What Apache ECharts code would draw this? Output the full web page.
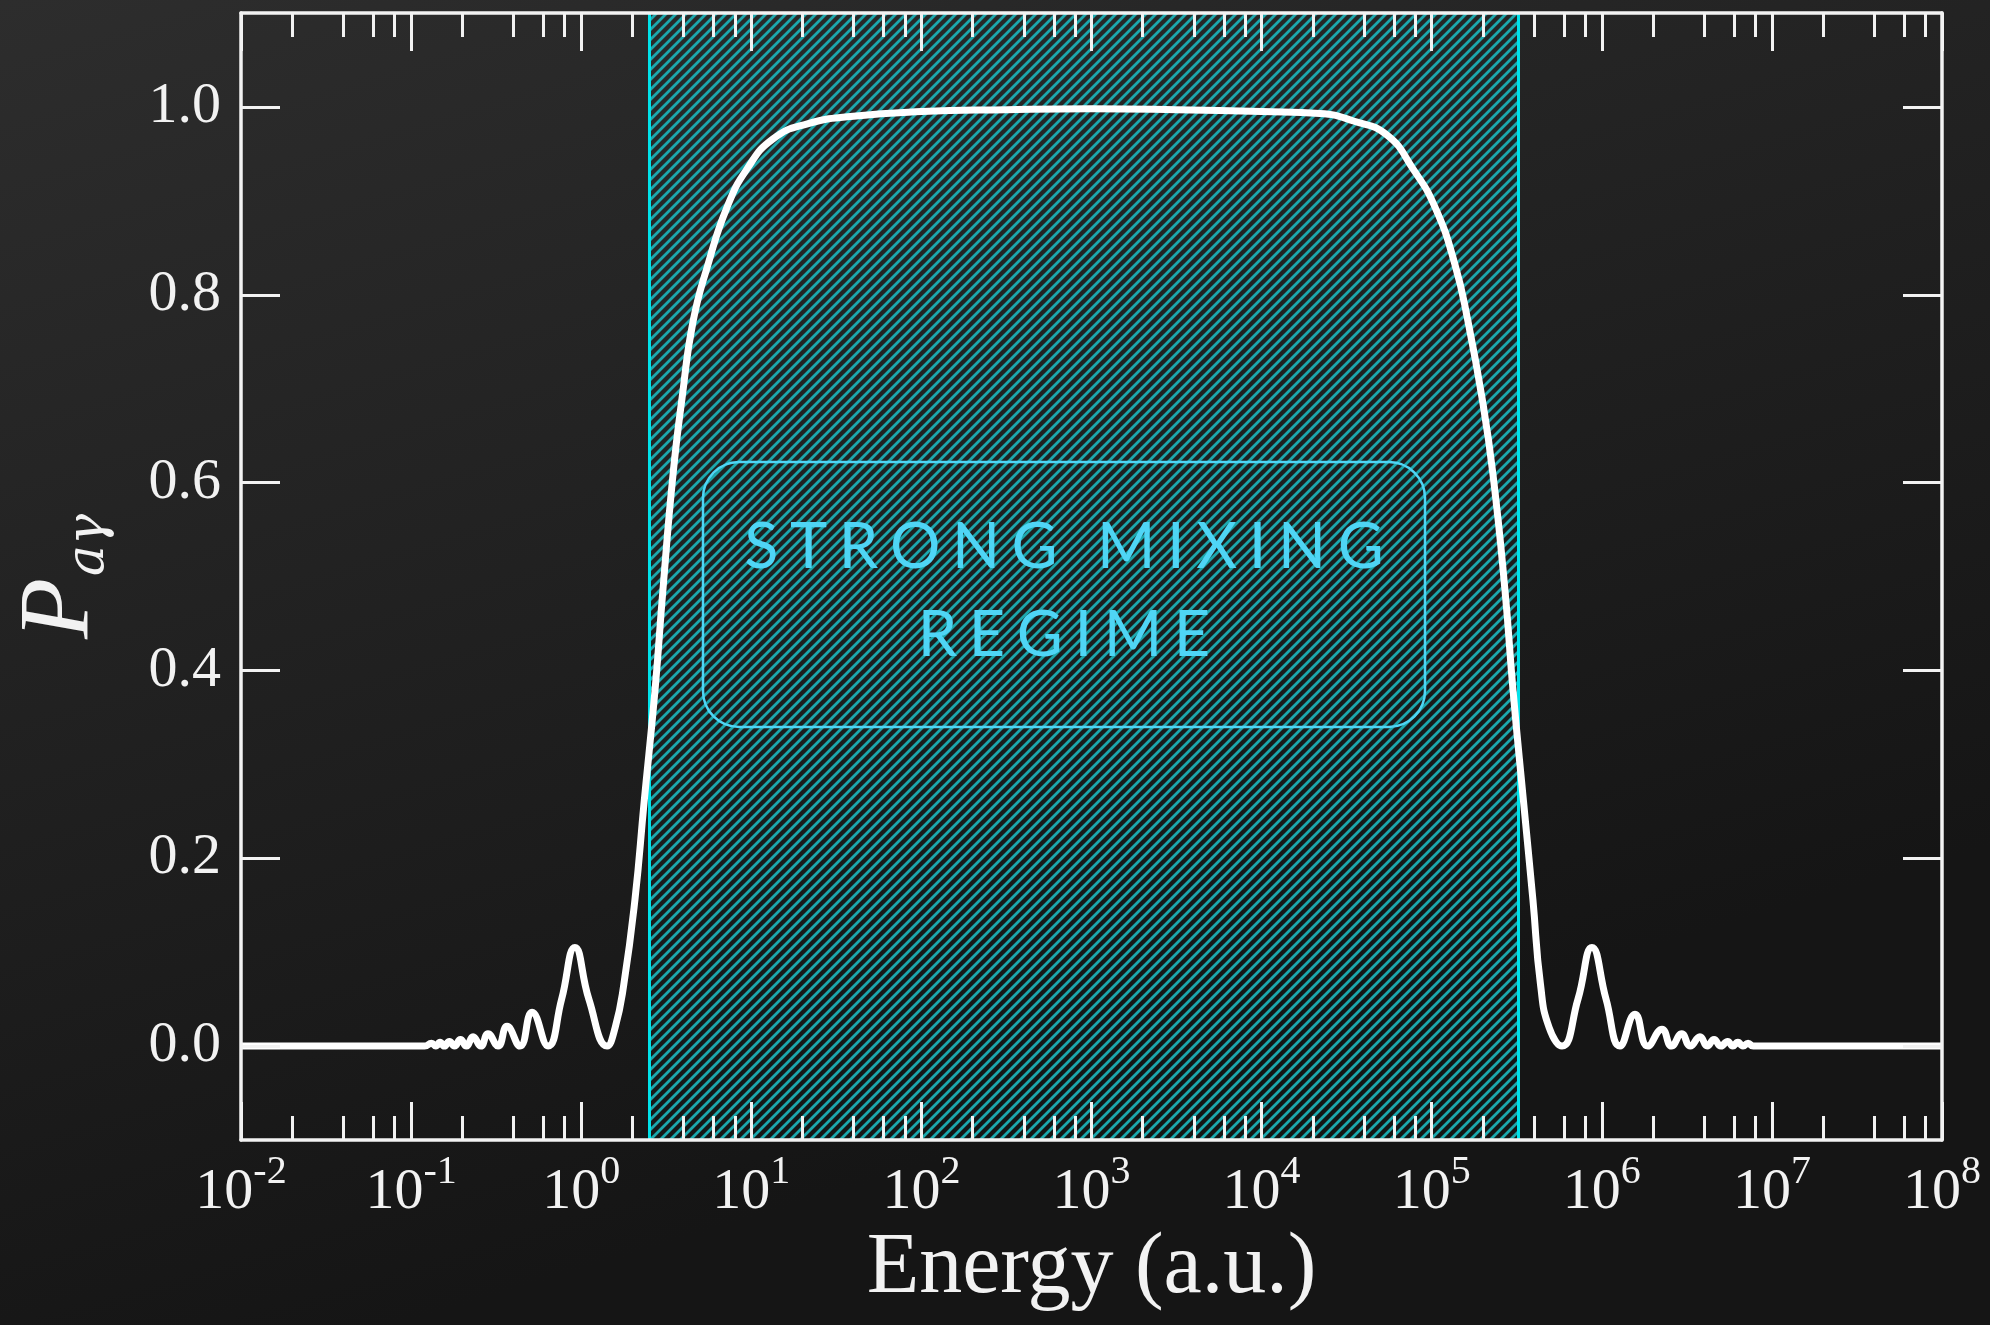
<!DOCTYPE html>
<html>
<head>
<meta charset="utf-8">
<script src="https://cdn.jsdelivr.net/npm/echarts@6/dist/echarts.min.js"></script>
<style>
  html, body { margin: 0; padding: 0; background: #1e1e1e; }
  #chart { width: 1990px; height: 1325px; }
</style>
</head>
<body>
<div id="chart"></div>
<script>
// Axion-photon conversion probability versus energy (energy given as log10 of a.u.)
const log10Energy = [
  -2.00, -1.50, -1.00, -0.92, -0.88, -0.855, -0.83, -0.805, -0.775, -0.745,
  -0.71, -0.675, -0.636, -0.59, -0.548, -0.489, -0.436, -0.36, -0.289, -0.195,
  -0.115, -0.037, 0.045, 0.152, 0.20, 0.25, 0.316, 0.37, 0.434, 0.481,
  0.54, 0.593, 0.657, 0.745, 0.857, 0.975, 1.128, 1.33, 1.60, 2.00,
  2.50, 3.00, 3.50, 4.00, 4.343, 4.54, 4.737, 4.89, 5.02, 5.137,
  5.214, 5.296, 5.36, 5.43, 5.478, 5.54, 5.595, 5.64, 5.69, 5.766,
  5.86, 5.942, 6.025, 6.107, 6.195, 6.27, 6.354, 6.41, 6.47, 6.52,
  6.577, 6.62, 6.66, 6.70, 6.74, 6.77, 6.80, 6.83, 6.86, 6.89,
  7.00, 7.50, 8.00
];
const probability = [
  0, 0, 0, 0, 0.003, 0, 0.004, 0, 0.005, 0,
  0.007, 0, 0.010, 0, 0.013, 0, 0.021, 0, 0.036, 0,
  0.050, 0.105, 0.050, 0, 0.020, 0.065, 0.156, 0.260, 0.379, 0.487,
  0.609, 0.690, 0.771, 0.832, 0.893, 0.934, 0.966, 0.982, 0.990, 0.995,
  0.997, 0.998, 0.997, 0.995, 0.993, 0.985, 0.970, 0.934, 0.893, 0.832,
  0.771, 0.690, 0.609, 0.487, 0.379, 0.260, 0.156, 0.065, 0.020, 0,
  0.050, 0.105, 0.050, 0, 0.034, 0, 0.018, 0, 0.013, 0,
  0.010, 0, 0.007, 0, 0.005, 0, 0.004, 0, 0.003, 0,
  0, 0, 0
];

// Axis structure
const decadeExponents = [-2, -1, 0, 1, 2, 3, 4, 5, 6, 7, 8];
const minorMultipliers = [2, 4, 6, 8];
const probabilityTicks = [0, 0.2, 0.4, 0.6, 0.8, 1.0];
const probabilityRange = [-0.1, 1.1];

// Strong-mixing band (energy, a.u.) and its caption
const mixingBounds = [2.5, 3.2e5];
const regimeLabel = ['STRONG MIXING', 'REGIME'];

const FG = '#f2f2f2';
const SERIF = '"Liberation Serif", "DejaVu Serif", serif';
const CYAN_EDGE = '#00e2ea';
const CAPTION = '#4fd5f5';

const curve = log10Energy.map((x, i) => [x, probability[i]]);
const minorTickValues = [];
decadeExponents.slice(0, -1).forEach(n => {
  minorMultipliers.forEach(m => minorTickValues.push(n + Math.log10(m)));
});
const bandEdges = mixingBounds.map(e => Math.log10(e));

function hatchCanvas(step, color, width) {
  const c = document.createElement('canvas');
  c.width = step; c.height = step;
  const g = c.getContext('2d');
  g.strokeStyle = color;
  g.lineWidth = width;
  g.lineCap = 'square';
  [-1, 0, 1].forEach(k => {
    g.beginPath();
    g.moveTo(k * step, step);
    g.lineTo(k * step + step, 0);
    g.stroke();
  });
  return c;
}

const chart = echarts.init(document.getElementById('chart'), null, { renderer: 'canvas' });

const commonX = { type: 'value', min: -2, max: 8, gridIndex: 0, splitLine: { show: false }, z: 10 };
const tickStyle = { color: FG, width: 3 };
const frameLine = { show: true, onZero: false, lineStyle: { color: FG, width: 3.5 } };
const noLine = { show: false, onZero: false };

const option = {
  backgroundColor: {
    type: 'linear', x: 0, y: 0, x2: 0.2, y2: 1,
    colorStops: [
      { offset: 0, color: '#2d2d2d' },
      { offset: 1, color: '#151515' }
    ]
  },
  animation: false,
  grid: { left: 241, right: 48, top: 13, bottom: 185, containLabel: false },
  xAxis: [
    Object.assign({}, commonX, {
      position: 'bottom', interval: 1,
      axisLine: frameLine,
      axisTick: { show: true, inside: true, length: 38, lineStyle: tickStyle },
      axisLabel: {
        show: true, margin: 12,
        customValues: decadeExponents,
        formatter: v => '{b|10}{s|' + Math.round(v) + '}',
        rich: {
          b: { fontFamily: SERIF, fontSize: 58, color: FG, lineHeight: 70, verticalAlign: 'bottom' },
          s: { fontFamily: SERIF, fontSize: 40, color: FG, lineHeight: 40, verticalAlign: 'top' }
        }
      },
      name: 'Energy (a.u.)', nameLocation: 'middle', nameGap: 68,
      nameTextStyle: { fontFamily: SERIF, fontSize: 86, color: FG }
    }),
    Object.assign({}, commonX, {
      position: 'bottom',
      axisLine: noLine,
      axisLabel: { show: false },
      axisTick: { show: true, inside: true, length: 24, customValues: minorTickValues, lineStyle: tickStyle }
    }),
    Object.assign({}, commonX, {
      position: 'top', interval: 1,
      axisLine: frameLine,
      axisLabel: { show: false },
      axisTick: { show: true, inside: true, length: 38, lineStyle: tickStyle }
    }),
    Object.assign({}, commonX, {
      position: 'top',
      axisLine: noLine,
      axisLabel: { show: false },
      axisTick: { show: true, inside: true, length: 24, customValues: minorTickValues, lineStyle: tickStyle }
    })
  ],
  yAxis: [
    {
      type: 'value', position: 'left', min: probabilityRange[0], max: probabilityRange[1], z: 10,
      splitLine: { show: false },
      axisLine: frameLine,
      axisTick: { show: true, inside: true, length: 39, customValues: probabilityTicks, lineStyle: tickStyle },
      axisLabel: {
        show: true, margin: 20, customValues: probabilityTicks,
        formatter: v => v.toFixed(1),
        fontFamily: SERIF, fontSize: 58, color: FG
      },
      name: '{p|P}{s|aγ}', nameLocation: 'middle', nameGap: 130, nameRotate: 90,
      nameTextStyle: {
        rich: {
          p: { fontFamily: SERIF, fontStyle: 'italic', fontSize: 100, color: FG, lineHeight: 100 },
          s: { fontFamily: '"DejaVu Serif", serif', fontStyle: 'italic', fontSize: 52, color: FG, verticalAlign: 'bottom', lineHeight: 52, padding: [0, 0, -4, 2] }
        }
      }
    },
    {
      type: 'value', position: 'right', min: probabilityRange[0], max: probabilityRange[1], z: 10,
      splitLine: { show: false },
      axisLine: frameLine,
      axisTick: { show: true, inside: true, length: 39, customValues: probabilityTicks, lineStyle: tickStyle },
      axisLabel: { show: false }
    }
  ],
  series: [
    {
      name: 'band', type: 'line', xAxisIndex: 0, yAxisIndex: 0, data: [], z: 1, silent: true,
      markArea: {
        silent: true,
        itemStyle: { color: { image: hatchCanvas(10, '#1ca8ad', 2.8), repeat: 'repeat' }, opacity: 1 },
        data: [[{ xAxis: bandEdges[0] }, { xAxis: bandEdges[1] }]]
      },
      markLine: {
        silent: true, symbol: 'none',
        lineStyle: { color: CYAN_EDGE, width: 3, type: 'solid' },
        label: { show: false },
        data: bandEdges.map(x => ({ xAxis: x }))
      }
    },
    {
      name: 'P', type: 'line', xAxisIndex: 0, yAxisIndex: 0, z: 5,
      data: curve, showSymbol: false, smooth: 0.5,
      lineStyle: { color: '#ffffff', width: 7 }
    }
  ],
  graphic: [
    {
      type: 'rect', z: 20,
      shape: { x: 703, y: 462, width: 722, height: 265, r: 36 },
      style: { fill: 'none', stroke: CAPTION, lineWidth: 2.5 }
    },
    {
      type: 'text', z: 21, x: 1064, y: 592,
      style: {
        text: regimeLabel.map(line => line.split('').map(ch => '{L|' + ch + '}').join('')).join('\n'),
        align: 'center', verticalAlign: 'middle',
        rich: {
          L: { fontFamily: 'Lato, "Noto Sans", sans-serif', fontSize: 63, fill: CAPTION, lineHeight: 88, padding: [0, 5.8, 0, 5.8] }
        }
      }
    }
  ]
};

chart.setOption(option);
</script>
</body>
</html>
